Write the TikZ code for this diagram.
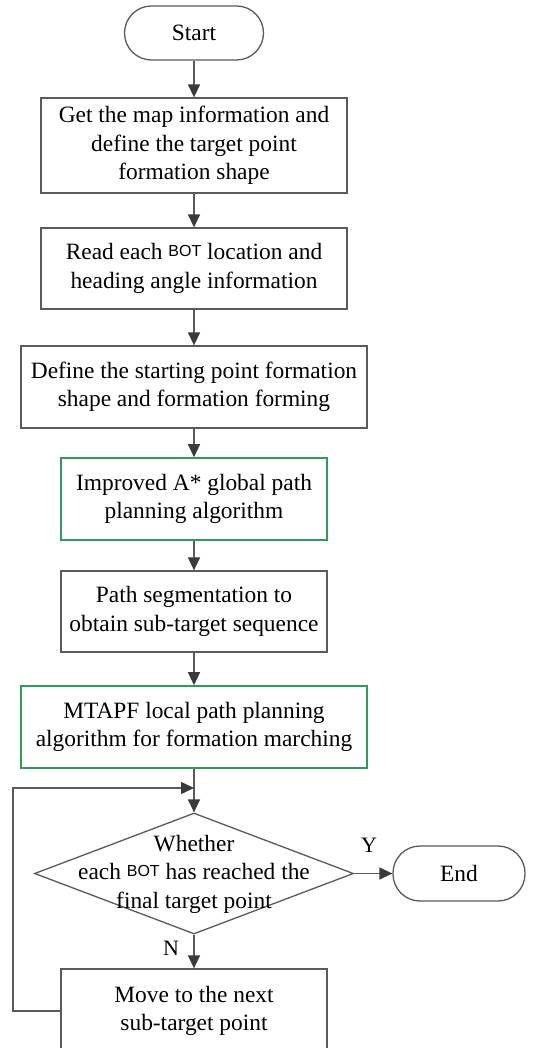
\documentclass[tikz,border=0pt]{standalone}
\usepackage{fontspec}
\setmainfont{Liberation Serif}
\setsansfont{Liberation Sans}
\usetikzlibrary{arrows.meta,shapes.geometric}
\definecolor{linec}{HTML}{5A5A5A}
\definecolor{tipc}{HTML}{3A3A3A}
\definecolor{greenc}{HTML}{2F9A5C}
\newcommand{\botword}{\raisebox{3pt}{\sffamily\fontsize{16}{16}\selectfont BOT}}
\tikzset{
  every node/.style={font=\fontsize{23.4}{28.5}\selectfont, inner sep=0pt},
  term/.style={draw=linec, line width=1.3pt, rounded corners=27pt, minimum height=54pt},
  proc/.style={draw=linec, line width=1.3pt, align=center},
  gproc/.style={proc, draw=greenc, line width=1.6pt},
  decis/.style={draw=linec, line width=1.3pt, shape=diamond, minimum width=319pt, minimum height=121pt, aspect=2.64},
  arr/.style={draw=linec, line width=1.4pt, -{Triangle[length=13pt,width=12pt,color=tipc]}},
  lab/.style={font=\fontsize{22}{26}\selectfont}
}
\begin{document}
\begin{tikzpicture}[x=1pt,y=-1pt]
\useasboundingbox[fill=white] (0,0) rectangle (537,1048);
\node[term, minimum width=139pt] (start) at (194,33) {Start};
\node[proc, minimum width=306pt, minimum height=95pt] (b1) at (194,145.5) {Get the map information and\\define the target point\\formation shape};
\node[proc, minimum width=306pt, minimum height=81pt] (b2) at (194,268.5) {Read each \botword{} location and\\heading angle information};
\node[proc, minimum width=346pt, minimum height=82pt] (b3) at (194,387) {Define the starting point formation\\shape and formation forming};
\node[gproc, minimum width=266pt, minimum height=82pt] (b4) at (194,499) {Improved A* global path\\planning algorithm};
\node[proc, minimum width=266pt, minimum height=81pt] (b5) at (194,611.5) {Path segmentation to\\obtain sub-target sequence};
\node[gproc, minimum width=346pt, minimum height=82pt] (b6) at (194,727) {MTAPF local path planning\\algorithm for formation marching};
\node[decis] (dec) at (194,873.5) {};
\node[align=center] (dect) at (194,874) {Whether\\each \botword{} has reached the\\final target point};
\node[term, minimum width=132pt, minimum height=55pt] (end) at (459,873.5) {End};
\node[proc, minimum width=266pt, minimum height=84pt] (b7) at (194,1011) {Move to the next\\sub-target point};
\node[lab] (ylab) at (369,845) {Y};
\node[lab] (nlab) at (171,948) {N};
\coordinate (j) at (194,788);
\coordinate (lx) at (13,0);
\draw[arr] (start) -- (b1);
\draw[arr] (b1) -- (b2);
\draw[arr] (b2) -- (b3);
\draw[arr] (b3) -- (b4);
\draw[arr] (b4) -- (b5);
\draw[arr] (b5) -- (b6);
\draw[arr] (b6.south) -- (dec.north);
\draw[arr] (dec.east) -- (end.west);
\draw[arr] (dec.south) -- (b7.north);
\draw[arr] (b7.west) -- (b7.west -| lx) -- (j -| lx) -- (j);
\end{tikzpicture}
\end{document}
